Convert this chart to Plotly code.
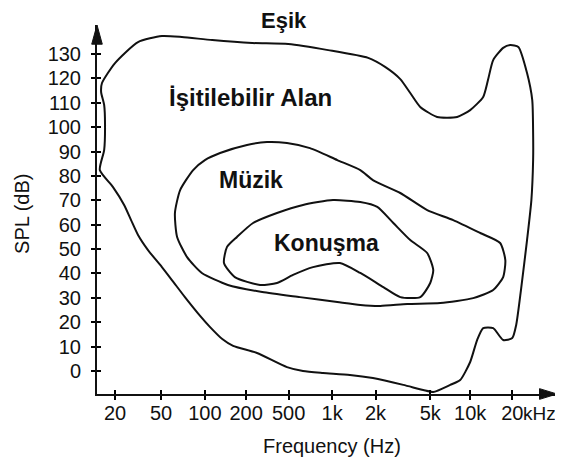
import plotly.graph_objects as go

# ---- axis definitions ----
# x positions are in "tick steps" along the (non-uniform) frequency axis
TICK_POS = [0, 1.06, 2.07, 3.02, 4.0, 5.0, 6.0, 7.26, 8.18, 9.15]
TICK_TEXT = ["20", "50", "100", "200", "500", "1k", "2k", "5k", "10k", "20"]
Y_TICKS = [0, 10, 20, 30, 40, 50, 60, 70, 80, 90, 100, 110, 120, 130]

# ---- outer boundary: threshold of pain (top) + threshold of hearing (bottom) ----
outer_x = [-0.05, -0.35, -0.25, -0.23, -0.25, -0.32, -0.30, 0.0, 0.53, 1.08, 1.54, 2.24, 3.16,
           3.99, 4.91, 5.83, 6.22, 6.57, 6.80, 7.03, 7.42, 7.88, 8.18, 8.48, 8.59,
           8.71, 8.94, 9.10, 9.29, 9.49, 9.61, 9.63, 9.63, 9.59, 9.49, 9.35, 9.24,
           9.15, 8.94, 8.71, 8.48, 8.34, 8.18, 7.95, 7.72, 7.33, 7.10, 6.64, 5.94,
           5.41, 4.79, 4.33, 3.96, 3.27, 2.72, 2.47, 2.19, 1.96, 1.61, 1.31, 1.08,
           0.76, 0.53, 0.37, 0.21, -0.05]
outer_y = [75.5, 82.4, 90.6, 100.9, 109.1, 114.4, 118.1, 126.3, 134.9, 137.4, 137.0, 135.7, 134.5,
           134.1, 131.6, 128.4, 124.7, 119.7, 114.0, 108.3, 104.2, 104.2, 107.0, 112.4, 119.3,
           127.5, 132.5, 133.7, 132.9, 122.2, 111.1, 97.6, 86.5, 70.1, 53.7, 33.2, 18.9,
           13.5, 12.7, 17.6, 17.6, 12.7, 3.7, -3.7, -5.7, -8.6, -7.8, -5.7, -2.9,
           -1.6, -0.8, 0.0, 1.6, 7.4, 10.3, 13.1, 18.0, 22.6, 30.3, 37.3, 42.6,
           49.6, 55.8, 61.9, 68.1, 75.5]

# ---- music area ----
music_x = [2.42, 3.04, 3.50, 3.96, 4.49, 5.12, 5.65, 5.94, 6.57, 7.19, 7.79, 8.41, 8.87,
           8.99, 8.94, 8.71, 8.25, 7.49, 6.73, 6.11, 5.65, 5.12, 4.26, 3.39, 2.60,
           2.00, 1.66, 1.43, 1.38, 1.50, 1.80, 2.07, 2.42]
music_y = [89.4, 92.7, 93.9, 93.5, 91.4, 86.5, 82.4, 78.3, 73.0, 66.0, 61.9, 56.6, 52.5,
           45.5, 38.5, 33.2, 29.9, 27.9, 27.5, 26.7, 27.1, 28.3, 30.3, 32.4, 35.3,
           40.2, 46.7, 55.0, 64.8, 74.2, 82.4, 86.5, 89.4]

# ---- speech area ----
speech_x = [3.73, 4.33, 5.02, 5.65, 6.04, 6.41, 6.80, 7.19, 7.33, 7.26, 7.03, 6.57, 6.18,
            5.65, 5.18, 4.56, 4.10, 3.73, 3.34, 2.76, 2.51, 2.58, 2.81, 3.18, 3.73]
speech_y = [64.8, 68.1, 70.1, 69.3, 67.3, 60.7, 53.7, 48.4, 41.4, 36.1, 30.3, 30.3, 34.4,
            40.2, 44.3, 42.6, 39.4, 36.1, 35.3, 38.5, 44.3, 50.9, 55.0, 60.7, 64.8]

LINE = dict(color="#111111", width=2, shape="spline", smoothing=0.6)
FONT = "Liberation Sans, Arial, Helvetica, sans-serif"

fig = go.Figure()
for xs, ys in [(outer_x, outer_y), (music_x, music_y), (speech_x, speech_y)]:
    fig.add_trace(go.Scatter(x=xs, y=ys, mode="lines", line=LINE,
                             hoverinfo="skip", showlegend=False))
# dummy trace for the overlay axes (inner half of the crossing ticks)
fig.add_trace(go.Scatter(x=[None], y=[None], xaxis="x2", yaxis="y2",
                         showlegend=False, hoverinfo="skip"))

XR = [-0.415, 10.18]
YR = [-9.43, 141.9]

axis_common = dict(showgrid=False, zeroline=False, tickcolor="black", tickwidth=2,
                   tickfont=dict(family=FONT, size=20, color="#111111"))

# the page body has an 8px margin, so the figure is 8px smaller and margins shifted
fig.update_layout(
    width=555, height=454,
    margin=dict(l=89, r=6, t=17, b=68),
    paper_bgcolor="white", plot_bgcolor="white",
    xaxis=dict(range=XR, tickvals=TICK_POS, ticktext=TICK_TEXT, showline=True,
               linecolor="#111111", linewidth=2, ticks="outside", ticklen=4,
               ticklabelstandoff=-4, **axis_common),
    yaxis=dict(range=YR, tickvals=Y_TICKS, showline=True, linecolor="#111111",
               linewidth=2, ticks="outside", ticklen=4, ticklabelstandoff=6,
               **axis_common),
    xaxis2=dict(range=XR, tickvals=TICK_POS, overlaying="x", anchor="y", side="bottom",
                ticks="inside", ticklen=4, showticklabels=False, showline=False,
                showgrid=False, zeroline=False, tickcolor="black", tickwidth=2),
    yaxis2=dict(range=YR, tickvals=Y_TICKS, overlaying="y", anchor="x", side="left",
                ticks="inside", ticklen=4, showticklabels=False, showline=False,
                showgrid=False, zeroline=False, tickcolor="black", tickwidth=2),
)

# arrow heads on the axes
fig.add_shape(type="path", xref="paper", yref="paper",
              path="M 0,1.0 L -0.0115,0.948 L 0.0115,0.948 Z",
              fillcolor="#111111", line=dict(color="#111111", width=1))
fig.add_shape(type="path", xref="paper", yref="paper",
              path="M 1.0,0 L 0.962,-0.0145 L 0.962,0.0145 Z",
              fillcolor="#111111", line=dict(color="#111111", width=1))

bold = dict(family="Liberation Sans, Arial, Helvetica, sans-serif", size=23, color="#111111")
ann = [
    dict(text="<b>Eşik</b>", x=0.4065, y=1.013, xref="paper", yref="paper",
         font=dict(bold, size=22)),
    dict(text="<b>İşitilebilir Alan</b>", x=3.11, y=112.0, xref="x", yref="y",
         font=dict(bold, size=24)),
    dict(text="<b>Müzik</b>", x=3.13, y=78.5, xref="x", yref="y", font=bold),
    dict(text="<b>Konuşma</b>", x=4.88, y=52.5, xref="x", yref="y", font=bold),
    dict(text="kHz", x=0.962, y=-0.0515, xref="paper", yref="paper",
         font=dict(family=FONT, size=19, color="#111111")),
    dict(text="Frequency (Hz)", x=0.511, y=-0.14, xref="paper", yref="paper",
         font=dict(family=FONT, size=20, color="#111111")),
    dict(text="SPL (dB)", x=-0.163, y=0.488, xref="paper", yref="paper", textangle=-90,
         font=dict(family=FONT, size=20, color="#111111")),
]
for a in ann:
    fig.add_annotation(showarrow=False, xanchor="center", yanchor="middle", **a)

fig.write_html("out.html")
